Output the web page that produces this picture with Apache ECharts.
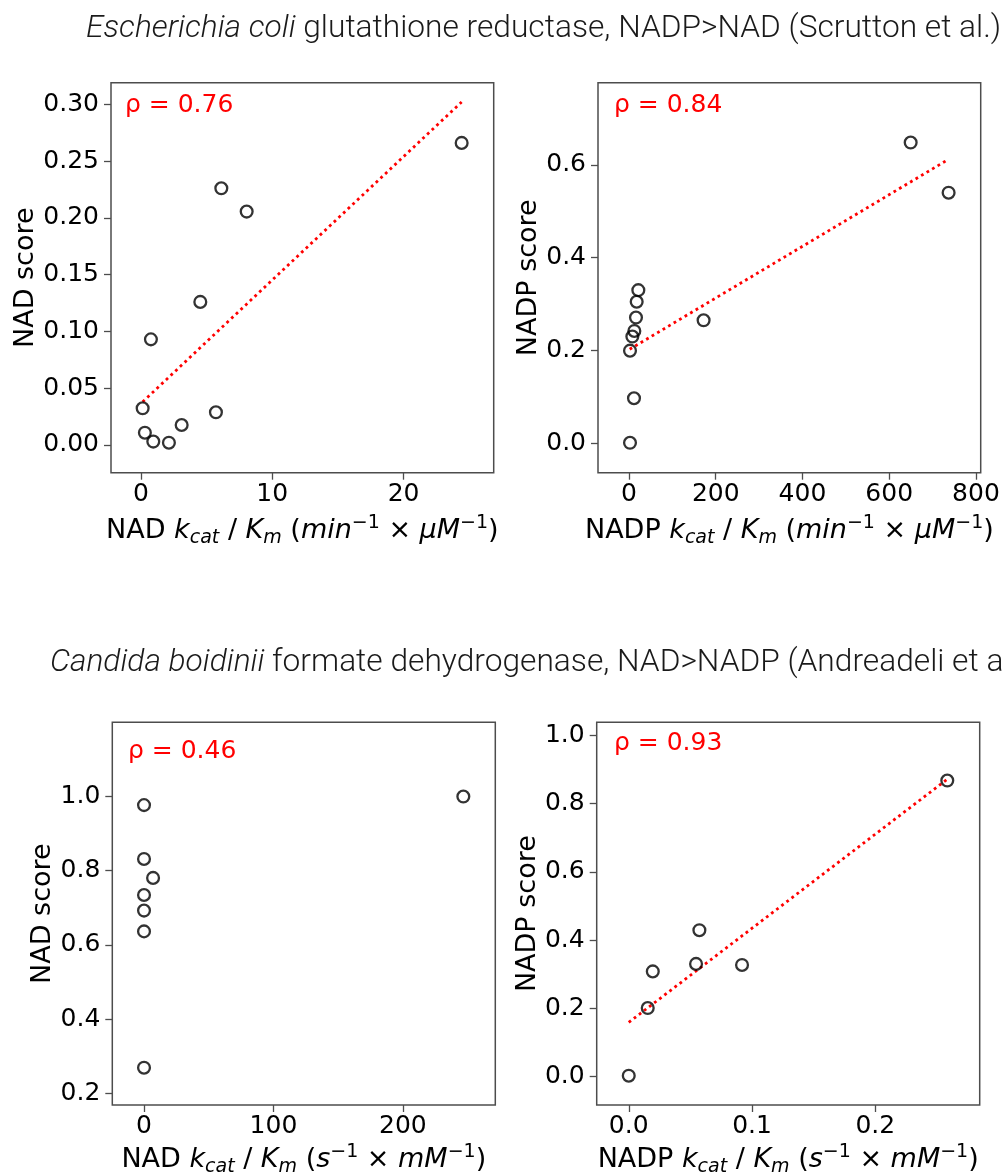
<!DOCTYPE html>
<html>
<head>
<meta charset="utf-8">
<script src="https://cdn.jsdelivr.net/npm/echarts@6/dist/echarts.min.js"></script>
<style>
html,body{margin:0;padding:0;background:#fff;}
#c{width:1002px;height:1174px;}
</style>
</head>
<body>
<div id="c"></div>
<script>
// ---- data ----
const titleTop = 'Escherichia coli';
const titleTopRest = ' glutathione reductase, NADP>NAD (Scrutton et al.)';
const titleBottom = 'Candida boidinii';
const titleBottomRest = ' formate dehydrogenase, NAD>NADP (Andreadeli et al.)';

// Panel 1: E. coli, NAD
const p1X = [24.42, 6.12, 8.05, 4.52, 0.76, 0.13, 5.71, 3.10, 0.30, 0.94, 2.13];
const p1Y = [0.266, 0.226, 0.2055, 0.126, 0.093, 0.0323, 0.0288, 0.0176, 0.0108, 0.003, 0.002];
const fit1X = [0.13, 24.42];
const fit1Y = [0.038, 0.302];
const p1XTicks = [0, 10, 20];
const p1YTicks = [0, 0.05, 0.10, 0.15, 0.20, 0.25, 0.30];

// Panel 2: E. coli, NADP
const p2X = [649.5, 737, 172, 21.5, 17.7, 16.1, 12.3, 7.7, 2.3, 11.5, 2.3];
const p2Y = [0.648, 0.540, 0.265, 0.330, 0.305, 0.271, 0.242, 0.230, 0.1996, 0.097, 0.001];
const fit2X = [1.6, 737];
const fit2Y = [0.2026, 0.612];
const p2XTicks = [0, 200, 400, 600, 800];
const p2YTicks = [0, 0.2, 0.4, 0.6];

// Panel 3: C. boidinii, NAD
const p3X = [246.7, 0, 0, 7, 0, 0, 0, 0];
const p3Y = [0.999, 0.976, 0.831, 0.780, 0.734, 0.692, 0.636, 0.269];
const p3XTicks = [0, 100, 200];
const p3YTicks = [0.2, 0.4, 0.6, 0.8, 1.0];

// Panel 4: C. boidinii, NADP
const p4X = [0.2584, 0.0573, 0.0546, 0.0919, 0.0195, 0.0154, 0];
const p4Y = [0.868, 0.429, 0.330, 0.327, 0.308, 0.2005, 0.002];
const fit4X = [0, 0.2584];
const fit4Y = [0.1585, 0.872];
const p4XTicks = [0, 0.1, 0.2];
const p4YTicks = [0, 0.2, 0.4, 0.6, 0.8, 1.0];

const rhoLabels = ['ρ = 0.76', 'ρ = 0.84', 'ρ = 0.46', 'ρ = 0.93'];
const yNames = ['NAD score', 'NADP score', 'NAD score', 'NADP score'];
const xNames = [
  '{n|NAD }{i|k}{sub|cat}{n| / }{i|K}{sub|m}{n| (}{i|min}{sup|−1}{n| × }{i|μM}{sup|−1}{n|)}',
  '{n|NADP }{i|k}{sub|cat}{n| / }{i|K}{sub|m}{n| (}{i|min}{sup|−1}{n| × }{i|μM}{sup|−1}{n|)}',
  '{n|NAD }{i|k}{sub|cat}{n| / }{i|K}{sub|m}{n| (}{i|s}{sup|−1}{n| × }{i|mM}{sup|−1}{n|)}',
  '{n|NADP }{i|k}{sub|cat}{n| / }{i|K}{sub|m}{n| (}{i|s}{sup|−1}{n| × }{i|mM}{sup|−1}{n|)}'
];

// ---- layout / style ----
const FONT = "'DejaVu Sans', sans-serif";
const FRAME = '#4d4d4d';
const grids = [
  {left: 111, top: 82.7, width: 382.7, height: 390},
  {left: 598, top: 82.7, width: 382.7, height: 390},
  {left: 112.3, top: 722.3, width: 383, height: 382.7},
  {left: 596.7, top: 722.3, width: 383, height: 382.7}
];
const xRanges = [[-2.28, 26.86], [-71.5, 811], [-24.5, 271.4], [-0.026, 0.2847]];
const yRanges = [[-0.0244, 0.319], [-0.0634, 0.777], [0.1685, 1.199], [-0.084, 1.039]];
const xTicks = [p1XTicks, p2XTicks, p3XTicks, p4XTicks];
const yTicks = [p1YTicks, p2YTicks, p3YTicks, p4YTicks];
const xDec = [0, 0, 0, 1];
const yDec = [2, 1, 1, 1];
const xNameGap = [41, 41, 38, 38];
const yNameGap = [72, 55, 54, 54];
const rhoPos = [[125, 105], [614, 105], [128, 751.7], [614, 743.7]];

const rich = {
  n: {fontSize: 27, fontFamily: FONT, color: '#000', lineHeight: 34, verticalAlign: 'middle'},
  i: {fontSize: 27, fontFamily: FONT, fontStyle: 'italic', color: '#000', lineHeight: 34, verticalAlign: 'middle'},
  sub: {fontSize: 19, fontFamily: FONT, fontStyle: 'italic', color: '#000', lineHeight: 21, verticalAlign: 'bottom'},
  sup: {fontSize: 19, fontFamily: FONT, color: '#000', lineHeight: 19, verticalAlign: 'top'}
};

const xAxis = [], yAxis = [];
for (let k = 0; k < 4; k++) {
  xAxis.push({
    type: 'value', gridIndex: k, min: xRanges[k][0], max: xRanges[k][1],
    name: xNames[k], nameLocation: 'middle', nameGap: xNameGap[k],
    nameTextStyle: {rich: rich},
    axisLine: {show: false, onZero: false},
    axisTick: {show: true, inside: false, length: 7, lineStyle: {color: FRAME, width: 1.3}, customValues: xTicks[k]},
    axisLabel: {show: true, margin: 9, fontSize: 25, fontFamily: FONT, color: '#000', customValues: xTicks[k],
      formatter: (v => (function (val) { return Number(val).toFixed(xDec[v]); }))(k)},
    splitLine: {show: false}
  });
  yAxis.push({
    type: 'value', gridIndex: k, min: yRanges[k][0], max: yRanges[k][1],
    name: yNames[k], nameLocation: 'middle', nameGap: yNameGap[k],
    nameTextStyle: {fontSize: 27, fontFamily: FONT, color: '#000'},
    axisLine: {show: false, onZero: false},
    axisTick: {show: true, inside: false, length: 7, lineStyle: {color: FRAME, width: 1.3}, customValues: yTicks[k]},
    axisLabel: {show: true, margin: 12, fontSize: 25, fontFamily: FONT, color: '#000', customValues: yTicks[k],
      formatter: (v => (function (val) { return Number(val).toFixed(yDec[v]); }))(k)},
    splitLine: {show: false}
  });
}

function zipPts(xs, ys) { return xs.map((x, i) => [x, ys[i]]); }

const scatterStyle = {color: 'rgba(0,0,0,0)', borderColor: '#000', borderWidth: 2.3};
const fitStyle = {color: '#ff0000', width: 2.8, type: [2.8, 3.6], cap: 'butt'};

const pts = [zipPts(p1X, p1Y), zipPts(p2X, p2Y), zipPts(p3X, p3Y), zipPts(p4X, p4Y)];
const fits = [zipPts(fit1X, fit1Y), zipPts(fit2X, fit2Y), null, zipPts(fit4X, fit4Y)];

const series = [];
for (let k = 0; k < 4; k++) {
  if (fits[k]) {
    series.push({
      type: 'line', xAxisIndex: k, yAxisIndex: k, data: fits[k], symbol: 'none',
      lineStyle: fitStyle, z: 2, silent: true
    });
  }
  series.push({
    type: 'scatter', xAxisIndex: k, yAxisIndex: k, data: pts[k],
    symbol: 'circle', symbolSize: 11.8, itemStyle: scatterStyle, z: 3, silent: true
  });
}

const TFS = 31.7;
const titleRich = {
  it: {fontFamily: 'Roboto', fontWeight: 300, fontStyle: 'italic', fontSize: TFS, color: '#1a1a1a'}
};
const graphic = rhoLabels.map((t, k) => ({
  type: 'text', x: rhoPos[k][0], y: rhoPos[k][1], silent: true,
  style: {text: t, fill: '#ff0000', font: '25px ' + FONT, fontSize: 25, fontFamily: FONT,
    align: 'left', verticalAlign: 'middle', textAlign: 'left', textVerticalAlign: 'middle'}
}));

const chart = echarts.init(document.getElementById('c'), null, {renderer: 'canvas'});
chart.setOption({
  animation: false,
  backgroundColor: '#fff',
  title: [
    {text: '{it|' + titleTop + '}' + titleTopRest, left: 86, top: 13, padding: 0,
      textStyle: {fontFamily: 'Roboto', fontWeight: 300, fontSize: TFS, color: '#1a1a1a', rich: titleRich}},
    {text: '{it|' + titleBottom + '}' + titleBottomRest, left: 50, top: 647, padding: 0,
      textStyle: {fontFamily: 'Roboto', fontWeight: 300, fontSize: TFS, color: '#1a1a1a', rich: titleRich}}
  ],
  grid: grids.map(g => Object.assign({show: true, borderColor: FRAME, borderWidth: 1.5, backgroundColor: 'rgba(0,0,0,0)',
    containLabel: false, outerBoundsMode: 'none'}, g)),
  xAxis: xAxis,
  yAxis: yAxis,
  series: series,
  graphic: graphic
});
</script>
</body>
</html>
